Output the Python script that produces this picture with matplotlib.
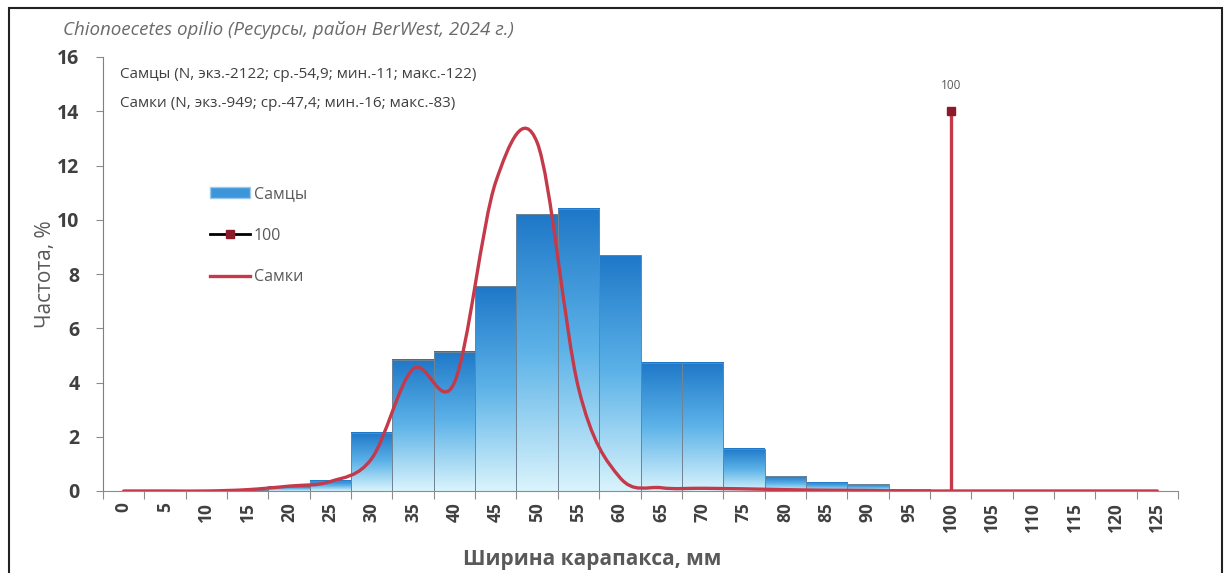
import matplotlib.pyplot as plt
import numpy as np
from matplotlib.path import Path
from matplotlib.patches import PathPatch, Rectangle, Patch
from matplotlib.lines import Line2D
from matplotlib.colors import LinearSegmentedColormap

plt.rcParams['font.family'] = ['Open Sans', 'DejaVu Sans']

# ---------------- data ----------------
sizes = [0, 5, 10, 15, 20, 25, 30, 35, 40, 45, 50, 55, 60,
         65, 70, 75, 80, 85, 90, 95, 100, 105, 110, 115, 120, 125]
males = [0, 0, 0, 0.02, 0.15, 0.38, 2.14, 4.83, 5.13, 7.55, 10.2, 10.4, 8.7,
         4.72, 4.72, 1.55, 0.55, 0.3, 0.25, 0.05, 0, 0, 0, 0, 0, 0]
females = [0, 0, 0, 0.05, 0.18, 0.35, 1.2, 4.5, 4.0, 11.4, 12.85, 3.8, 0.5,
           0.12, 0.1, 0.08, 0.05, 0.03, 0.02, 0, 0, 0, 0, 0, 0, 0]
mark_x = 100
mark_y = 14

title = 'Chionoecetes opilio (Ресурсы, район BerWest, 2024 г.)'
stat_m = 'Самцы (N, экз.-2122; ср.-54,9; мин.-11; макс.-122)'
stat_f = 'Самки (N, экз.-949; ср.-47,4; мин.-16; макс.-83)'

grey = '#595959'
red = '#c43a4a'

fig = plt.figure(figsize=(12.3, 5.73), dpi=100)
ax = fig.add_axes([103 / 1230, 1 - 491 / 573, 1075 / 1230, 434 / 573])

# bars with vertical gradient (dark top -> light bottom)
cmap = LinearSegmentedColormap.from_list('bl', ['#daf4fc', '#5db3e8', '#1f78c8'])
grad = np.linspace(0, 1, 256).reshape(-1, 1)
for x, h in zip(sizes, males):
    if h > 0:
        ax.imshow(grad, extent=[x - 2.5, x + 2.5, 0, h], origin='lower',
                  cmap=cmap, aspect='auto', zorder=1, interpolation='bicubic')
ax.bar(sizes, males, width=5, facecolor='none', edgecolor='#6f8496',
       linewidth=0.7, zorder=1.5)

# smoothed female line (Catmull-Rom as cubic Bezier)
pts = np.column_stack([sizes, females]).astype(float)
verts = [tuple(pts[0])]
codes = [Path.MOVETO]
n = len(pts)
for i in range(n - 1):
    p0 = pts[max(i - 1, 0)]
    p1 = pts[i]
    p2 = pts[i + 1]
    p3 = pts[min(i + 2, n - 1)]
    c1 = p1 + (p2 - p0) / 6
    c2 = p2 - (p3 - p1) / 6
    verts += [tuple(c1), tuple(c2), tuple(p2)]
    codes += [Path.CURVE4] * 3
ax.add_patch(PathPatch(Path(verts, codes), facecolor='none', edgecolor=red,
                       linewidth=2.4, zorder=3, capstyle='round'))

# "100" series
ax.plot([mark_x, mark_x], [0, mark_y], color=red, linewidth=2.4, zorder=3)
ax.plot([mark_x], [mark_y], marker='s', markersize=6, color='#8b1a2a', zorder=4)
ax.annotate('100', (mark_x, mark_y), xytext=(0, 14), textcoords='offset points',
            ha='center', va='bottom', fontsize=8.5, color=grey)

ax.set_xlim(-2.5, 127.5)
ax.set_ylim(0, 16)
ax.set_yticks(np.arange(0, 17, 2))
ax.tick_params(axis='y', length=5, color='#8c8c8c', labelsize=14, labelcolor='#404040', pad=12)
for lab in ax.get_yticklabels():
    lab.set_fontweight('bold')

bounds = [s - 2.5 for s in sizes] + [sizes[-1] + 2.5]
ax.set_xticks(bounds, [''] * len(bounds))
ax.set_xticks(sizes, [str(s) for s in sizes], minor=True)
ax.tick_params(axis='x', which='major', length=6, color='#8c8c8c')
ax.tick_params(axis='x', which='minor', length=0, labelsize=12.5, labelcolor='#404040',
               labelrotation=90, pad=8)
for lab in ax.get_xticklabels(minor=True):
    lab.set_fontweight('bold')

for s in ['top', 'right']:
    ax.spines[s].set_visible(False)
ax.spines['left'].set_color('#7f7f7f')
ax.spines['bottom'].set_color('#8c8c8c')

ax.set_ylabel('Частота, %', fontsize=15, color=grey)
ax.yaxis.set_label_coords(-57 / 1075, 0.5)
ax.yaxis.label.set_va('center')
ax.set_xlabel('Ширина карапакса, мм', fontsize=15, color=grey, fontweight='bold')
ax.xaxis.set_label_coords(0.455, -69 / 434)
ax.xaxis.label.set_va('center')

# texts
fig.text(63 / 1230, 1 - 30 / 573, title, fontsize=13.5, style='italic',
         color='#6a6a6a', va='center')
fig.text(120 / 1230, 1 - 75 / 573, stat_m, fontsize=11, color='#404040', va='center')
fig.text(120 / 1230, 1 - 103 / 573, stat_f, fontsize=11, color='#404040', va='center')

handles = [Patch(facecolor='#3d95da', edgecolor='#9cc9ec'),
           Line2D([], [], color='black', lw=2, marker='s', markersize=6,
                  markerfacecolor='#8b1a2a', markeredgecolor='#8b1a2a'),
           Line2D([], [], color=red, lw=2.4)]
fig.legend(handles, ['Самцы', '100', 'Самки'], loc='upper left',
           bbox_to_anchor=(196 / 1230, 1 - 172 / 573), frameon=False,
           fontsize=11.5, labelcolor=grey, labelspacing=1.6, handlelength=2.5,
           handletextpad=0.2)

# outer frame
fig.patches.append(Rectangle((9 / 1230, -0.05), 1213 / 1230, 1.05 - 8 / 573,
                             transform=fig.transFigure, fill=False,
                             edgecolor='#222222', linewidth=1.5))

fig.savefig('out.png', dpi=100)
